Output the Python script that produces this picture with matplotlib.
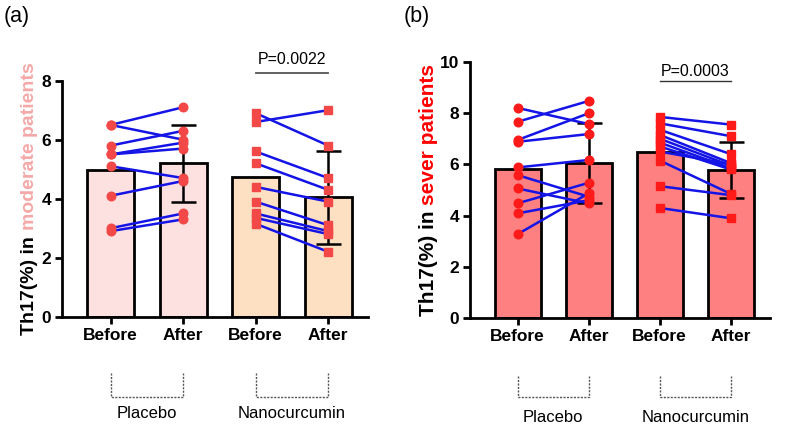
import matplotlib
matplotlib.use("Agg")
import numpy as np
from matplotlib import pyplot as plt

plt.rcParams["font.family"] = ["Liberation Sans", "DejaVu Sans"]

# x categories shared by both panels
conditions = ["Before", "After", "Before", "After"]
groups = ["Placebo", "Nanocurcumin"]

# panel (a): moderate patients
a_plc_before = [6.5, 6.5, 5.8, 5.5, 5.5, 5.1, 4.1, 3.0, 2.9]
a_plc_after = [7.1, 6.0, 6.3, 5.9, 5.7, 4.7, 4.6, 3.5, 3.3]
a_nano_before = [6.9, 6.6, 5.6, 5.2, 4.4, 3.9, 3.5, 3.35, 3.15]
a_nano_after = [5.8, 7.0, 4.7, 4.3, 3.9, 3.1, 2.9, 2.8, 2.2]
a_means = [4.97, 5.2, 4.72, 4.05]
a_err = [0, 1.3, 0, 1.57]
a_pvalue = "P=0.0022"

# panel (b): severe patients
b_plc_before = [8.2, 7.66, 6.95, 6.88, 5.88, 5.58, 5.06, 4.48, 4.09, 3.28]
b_plc_after = [7.57, 8.47, 7.99, 7.18, 6.17, 4.74, 4.48, 5.28, 4.6, 4.87]
b_nano_before = [7.85, 7.6, 7.35, 7.15, 7.0, 6.85, 6.7, 6.5, 6.15, 5.15, 4.3]
b_nano_after = [7.55, 7.1, 6.4, 6.05, 5.95, 5.85, 5.8, 6.0, 4.85, 4.8, 3.9]
b_means = [5.81, 6.05, 6.48, 5.78]
b_err = [0, 1.55, 0, 1.1]
b_pvalue = "P=0.0003"

LINE_BLUE = "#1414E6"


def two_tone_ylabel(ax, x, first, second, color2, size):
    fig = ax.figure
    r = fig.canvas.get_renderer()
    t = ax.text(x, 0.5, first + second, transform=ax.transAxes, rotation=90,
                fontsize=size, weight="bold")
    h = t.get_window_extent(r).height
    t.remove()
    cx, cy = ax.transAxes.transform((x, 0.5))
    inv = ax.transAxes.inverted()
    _, y0 = inv.transform((cx, cy - h / 2))
    _, y1 = inv.transform((cx, cy + h / 2))
    ax.text(x, y0, first, transform=ax.transAxes, rotation=90,
            rotation_mode="anchor", ha="left", va="center",
            fontsize=size, weight="bold", color="black")
    ax.text(x, y1, second, transform=ax.transAxes, rotation=90,
            rotation_mode="anchor", ha="right", va="center",
            fontsize=size, weight="bold", color=color2)


def panel(ax, pairs, means, err, bar_colors, dot_color, ymax, pvalue,
          p_y, underline, ylab, ylab_color, ylab_x, ylab_size,
          bracket_y, label_y):
    x = np.arange(len(conditions))
    ax.bar(x, means, width=0.65, color=bar_colors, edgecolor="black",
           linewidth=2.0, zorder=1)
    for i in range(len(means)):
        if err[i] > 0:
            ax.errorbar(x[i], means[i], yerr=err[i], color="black",
                        elinewidth=1.8, capsize=9, capthick=1.8, zorder=2)
    for k, (before, after, marker) in enumerate(pairs):
        x0, x1 = x[2 * k], x[2 * k + 1]
        for b, a in zip(before, after):
            ax.plot([x0, x1], [b, a], color=LINE_BLUE, lw=1.8, zorder=3)
        ax.plot([x0] * len(before), before, ls="none", marker=marker,
                ms=6.2, color=dot_color, zorder=4)
        ax.plot([x1] * len(after), after, ls="none", marker=marker,
                ms=6.2, color=dot_color, zorder=4)

    ax.set_xlim(-0.67, 3.55)
    ax.set_ylim(0, ymax)
    ax.set_yticks(np.arange(0, ymax + 1, 2))
    ax.set_xticks(x, conditions)
    for s in ["top", "right"]:
        ax.spines[s].set_visible(False)
    for s in ["left", "bottom"]:
        ax.spines[s].set_linewidth(2.0)
    ax.tick_params(width=2.0, length=5, labelsize=12.5, pad=3)
    for lab in ax.get_xticklabels() + ax.get_yticklabels():
        lab.set_fontweight("bold")

    # p-value annotation over the nanocurcumin pair
    if underline:
        ax.plot([x[2], x[3]], [p_y, p_y], color="#333333", lw=1.0,
                clip_on=False)
        ax.text((x[2] + x[3]) / 2, p_y + 0.06, pvalue, ha="center",
                va="bottom", fontsize=11.5)
    else:
        ax.plot([x[2], x[3]], [p_y, p_y], color="#555555", lw=1.3,
                clip_on=False)
        ax.text((x[2] + x[3]) / 2, p_y + 0.2, pvalue, ha="center",
                va="bottom", fontsize=11.5)

    # dotted group brackets under the axis
    tr = ax.get_xaxis_transform()
    for k, name in enumerate(groups):
        x0, x1 = x[2 * k], x[2 * k + 1]
        ax.plot([x0, x0, x1, x1], [bracket_y[0], bracket_y[1], bracket_y[1],
                                   bracket_y[0]],
                transform=tr, color="#555555", lw=1.0, ls=(0, (1.5, 1.0)),
                clip_on=False)
        ax.text((x0 + x1) / 2, label_y, name, transform=tr, ha="center",
                va="center", fontsize=12)

    two_tone_ylabel(ax, ylab_x, "Th17(%) in ", ylab, ylab_color, ylab_size)


fig = plt.figure(figsize=(7.89, 4.28), dpi=100)
ax_a = fig.add_axes([0.0786, 0.260, 0.388, 0.5515])
ax_b = fig.add_axes([0.5957, 0.2563, 0.380, 0.5995])

panel(ax_a, [(a_plc_before, a_plc_after, "o"), (a_nano_before, a_nano_after, "s")],
      a_means, a_err, ["#FDE1E1", "#FDE1E1", "#FDDFC2", "#FDDFC2"], "#F24848",
      8, a_pvalue, 8.26, False, "moderate patients", "#F5A8A8", -0.105, 14,
      (-0.24, -0.34), -0.41)
panel(ax_b, [(b_plc_before, b_plc_after, "o"), (b_nano_before, b_nano_after, "s")],
      b_means, b_err, ["#FF8080"] * 4, "#FF1A1A",
      10, b_pvalue, 9.26, True, "sever patients", "#FF0000", -0.14, 15,
      (-0.225, -0.307), -0.385)

fig.text(0.005, 0.962, "(a)", fontsize=15.5, va="center", ha="left")
fig.text(0.512, 0.962, "(b)", fontsize=15.5, va="center", ha="left")

fig.savefig("out.png", dpi=100)
